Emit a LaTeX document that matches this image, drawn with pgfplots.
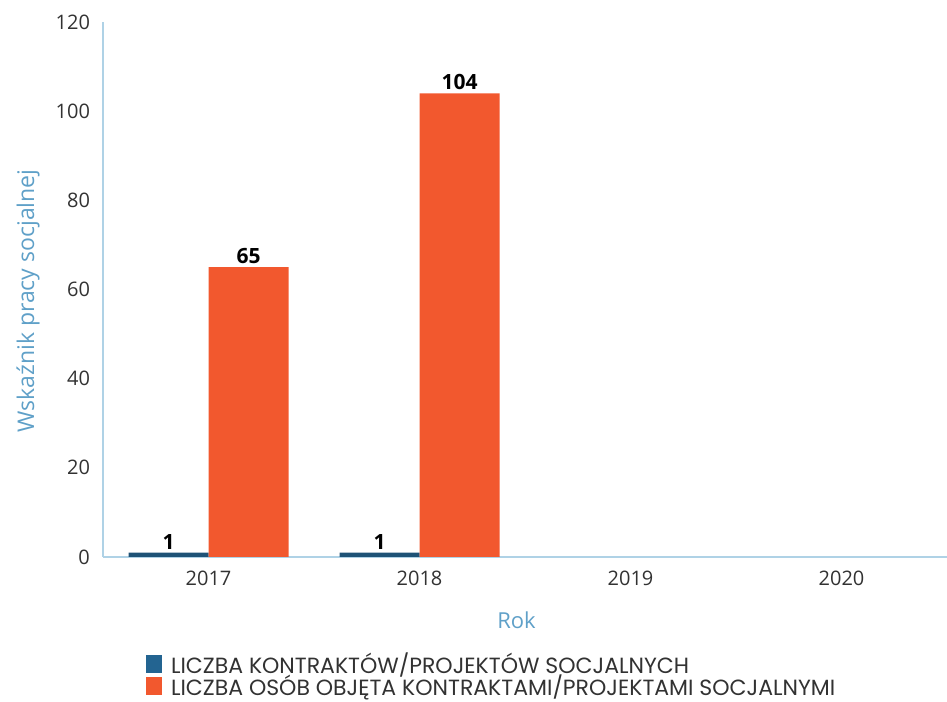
\documentclass[border=0pt]{standalone}
\usepackage{pgfplots}
\pgfplotsset{compat=1.18}
\usepackage{fontspec}
\setmainfont{Open Sans}
\newfontfamily\legfont{Poppins}
\definecolor{barblue}{RGB}{30,82,118}
\definecolor{legblue}{RGB}{35,100,145}
\definecolor{barorange}{RGB}{242,88,46}
\definecolor{lblue}{RGB}{95,160,200}
\definecolor{axline}{RGB}{175,210,230}
\definecolor{tickgray}{RGB}{50,50,50}
\begin{document}
\begin{tikzpicture}[x=1pt,y=1pt]
\useasboundingbox (0,0) rectangle (473.5,350.5);
\begin{axis}[
  at={(51.5pt,72pt)}, anchor=south west,
  width=422pt, height=267.5pt, scale only axis,
  xmin=-0.5, xmax=3.5, ymin=0, ymax=120,
  xtick={0,1,2,3}, xticklabels={2017,2018,2019,2020},
  ytick={0,20,...,120},
  axis lines*=left,
  axis line style={axline, line width=0.8pt},
  major tick length=0pt,
  tick label style={font=\fontsize{10}{12}\selectfont, text=tickgray},
  /pgf/number format/assume math mode=true,
  xticklabel style={yshift=-3.5pt},
  yticklabel style={xshift=-3pt},
  ylabel={Wskaźnik pracy socjalnej},
  xlabel={Rok},
  xlabel style={font=\fontsize{11}{13}\selectfont, text=lblue, at={(axis description cs:0.49,-0.1178)}, anchor=center},
  ylabel style={font=\fontsize{11.5}{13}\selectfont, text=lblue, at={(axis description cs:-0.0889,0.4785)}, anchor=center},
  ybar=0pt, bar width=40pt,
  nodes near coords,
  every node near coord/.append style={font=\fontsize{10.5}{12}\selectfont\bfseries, text=black, inner sep=1.5pt},
  legend style={at={(axis description cs:0.051,-0.171)}, anchor=north west,
    draw=none, fill=none, font=\legfont\fontsize{11}{12}\selectfont, text=tickgray,
    row sep=-4.8pt, column sep=2.5pt, inner sep=0pt, outer sep=0pt},
  legend cell align=left,
  legend image code/.code={\fill[#1] (0pt,-4.5pt) rectangle (8pt,4.5pt);},
]
\addplot[draw=none, fill=barblue, legend image post style={fill=legblue}] coordinates {(0,1) (1,1)};
\addplot[draw=none, fill=barorange] coordinates {(0,65) (1,104)};
\legend{LICZBA KONTRAKTÓW/PROJEKTÓW SOCJALNYCH, LICZBA OSÓB OBJĘTA KONTRAKTAMI/PROJEKTAMI SOCJALNYMI}
\end{axis}
\end{tikzpicture}
\end{document}
